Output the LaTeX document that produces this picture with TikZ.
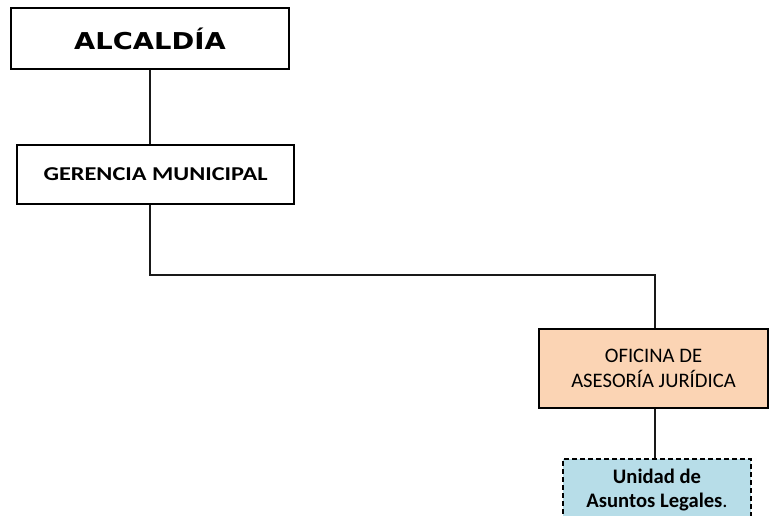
\documentclass[tikz,border=0pt]{standalone}
\usepackage{fontspec}
\setmainfont{Carlito}
\newfontfamily\verdanalike{DejaVu Sans}
\definecolor{orangefill}{HTML}{FBD4B4}
\definecolor{bluefill}{HTML}{B7DDE8}
\begin{document}
\begin{tikzpicture}[x=1bp,y=-1bp,
  boxstyle/.style={draw=black, line width=1.8bp, inner sep=0pt, align=center},
  conn/.style={draw=black!90, line width=1.5bp}]
\clip (0,0) rectangle (769,516);
\fill[white] (0,0) rectangle (769,516);
\node[boxstyle, minimum width=278bp, minimum height=61bp] (alc) at (150,38.5)
  {\scalebox{1.18}[1]{\verdanalike\fontsize{23.3}{28}\selectfont\bfseries ALCALDÍA}};
\node[boxstyle, minimum width=277bp, minimum height=59bp] (ger) at (155.5,174.5)
  {\scalebox{1.24}[1]{\fontsize{19.7}{24}\selectfont\bfseries GERENCIA MUNICIPAL}};
\node[boxstyle, fill=orangefill, minimum width=229bp, minimum height=79bp,
  font=\fontsize{20.7}{25}\selectfont] (ofi) at (653.5,368.5)
  {OFICINA DE\\ASESORÍA JURÍDICA};
\node[boxstyle, fill=bluefill, line width=1.5bp, dash pattern=on 5bp off 3bp,
  minimum width=188bp, minimum height=62bp,
  font=\fontsize{20.7}{25}\selectfont] (una) at (657,490)
  {\textbf{Unidad de}\\\textbf{Asuntos Legales}.};
\coordinate (j1) at (alc.south |- ger.south);
\coordinate (j2) at ([xshift=1.5bp]ofi.north);
\draw[conn] (alc.south) -- (alc.south |- ger.north);
\draw[conn] (j1) -- ++(0,70) -| (j2);
\draw[conn] (j2 |- ofi.south) -- (j2 |- una.north);
\end{tikzpicture}
\end{document}
